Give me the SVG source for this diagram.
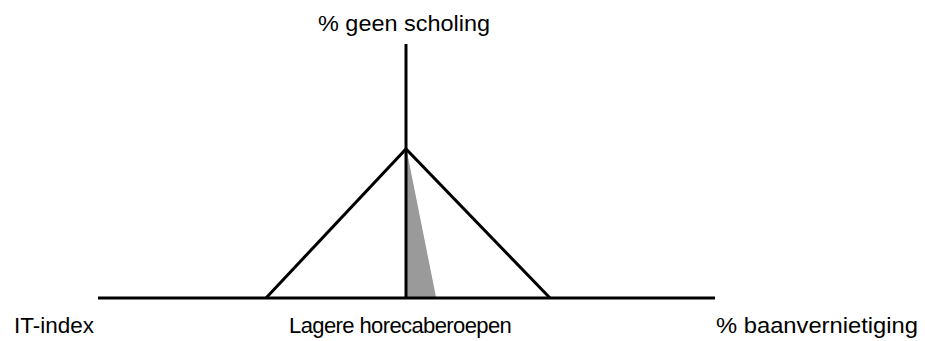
<svg xmlns="http://www.w3.org/2000/svg" width="925" height="341" viewBox="0 0 925 341">
<style>
.lbl{font-family:"Liberation Sans",Arial,sans-serif;font-size:22px;fill:#000}
.ln{stroke:#000;stroke-width:3;fill:none}
</style>
<rect width="925" height="341" fill="#fff"/>
<g id="shade"><polygon points="407,152 407,297 436,297" fill="#9a9a9a"/></g>
<g id="connectors">
<line class="ln" x1="98" y1="298" x2="715" y2="298" stroke="#222"/>
<line class="ln" x1="406" y1="44" x2="406" y2="298"/>
<polyline class="ln" points="266,298 406,149 550,298"/>
</g>
<g id="top"><text class="lbl" x="318" y="31" textLength="172" lengthAdjust="spacingAndGlyphs">% geen scholing</text></g>
<g id="left"><text class="lbl" x="14" y="333" textLength="80" lengthAdjust="spacingAndGlyphs">IT-index</text></g>
<g id="mid"><text class="lbl" x="289" y="333" style="letter-spacing:-0.6px">Lagere horecaberoepen</text></g>
<g id="right"><text class="lbl" x="716" y="333" textLength="202" lengthAdjust="spacingAndGlyphs">% baanvernietiging</text></g>
</svg>
